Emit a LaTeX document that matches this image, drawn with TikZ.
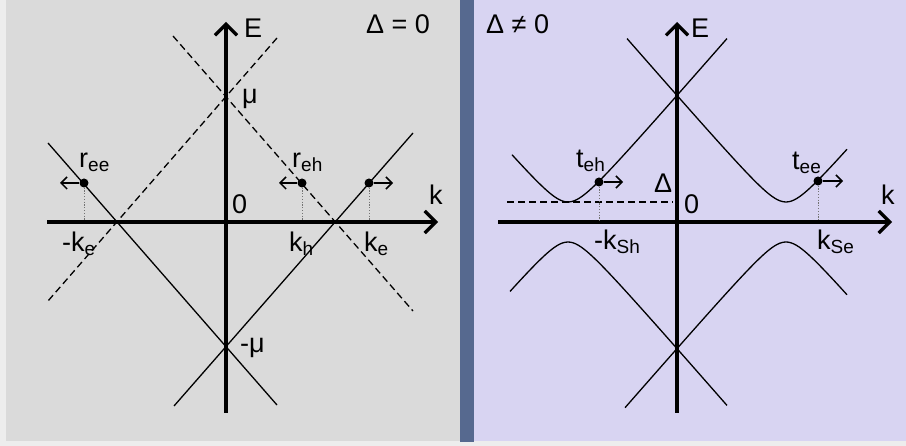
\documentclass[tikz,border=0pt]{standalone}
\usepackage{fontspec}
\setmainfont{Liberation Sans}
\usepackage{xcolor}
\usetikzlibrary{arrows.meta}

\definecolor{pagebg}{HTML}{EDEDED}
\definecolor{leftbg}{HTML}{DADADA}
\definecolor{rightbg}{HTML}{D8D4F2}
\definecolor{splitbar}{HTML}{56698F}

\newcommand{\lowsub}[1]{\raisebox{-0.25ex}{\fontsize{19}{21}\selectfont #1}}

\begin{document}
\begin{tikzpicture}[x=1pt, y=-1pt,
    kaxis/.style={line width=3.2pt, -{Straight Barb[length=11pt, width=22pt]}},
    band/.style={line width=1.3pt},
    guide/.style={line width=1.3pt, dash pattern=on 7pt off 4pt},
    drop/.style={line width=1pt, black!55, dash pattern=on 1.2pt off 1.6pt},
    move/.style={line width=1.5pt, -{Straight Barb[length=6pt, width=12pt]}},
    spot/.style={circle, fill=black, inner sep=0pt, minimum size=9pt},
    lbl/.style={font=\fontsize{27}{30}\selectfont, inner sep=0pt, anchor=base west}
]

% Backgrounds
\fill[pagebg] (0,0) rectangle (906,446);
\useasboundingbox (0,0) rectangle (906,446);
\fill[leftbg] (6,0) rectangle (460,441);
\fill[rightbg] (474,0) rectangle (906,441);
\fill[splitbar] (460,0) rectangle (474,442);

% Left panel: Delta = 0
\coordinate (lkl) at (47,222);
\coordinate (lkr) at (438,222);
\coordinate (lel) at (226,413);
\coordinate (leh) at (226,22);
\draw[kaxis] (lkl) -- (lkr);
\draw[kaxis] (lel) -- (leh);

\coordinate (la1) at (48,143);
\coordinate (la2) at (277,405);
\coordinate (lb1) at (174,406);
\coordinate (lb2) at (413,133);
\draw[band] (la1) -- (la2);
\draw[band] (lb1) -- (lb2);

\coordinate (lc1) at (173,36);
\coordinate (lc2) at (413,311);
\coordinate (ld1) at (277,38);
\coordinate (ld2) at (48,301);
\draw[guide] (lc1) -- (lc2);
\draw[guide] (ld1) -- (ld2);

% scattering states, left
\node[spot] (ree) at (84,183) {};
\node[spot] (reh) at (302,183) {};
\node[spot] (rout) at (369,183) {};
\coordinate (reeto) at (60,183);
\coordinate (rehto) at (279,183);
\coordinate (routto) at (393,183);
\draw[move] (ree) -- (reeto);
\draw[move] (reh) -- (rehto);
\draw[move] (rout) -- (routto);
\coordinate (reeax) at (84,221);
\coordinate (rehax) at (302,221);
\coordinate (routax) at (369,221);
\draw[drop] (ree) -- (reeax);
\draw[drop] (reh) -- (rehax);
\draw[drop] (rout) -- (routax);

\node[lbl] (lE) at (244,38) {E};
\node[lbl] (lk) at (429,205) {k};
\node[lbl] (lzero) at (232,214) {0};
\node[lbl] (lgap) at (366,34) {Δ = 0};
\node[lbl] (lmu) at (242,104) {μ};
\node[lbl] (lmmu) at (240,353) {-μ};
\node[lbl] (lree) at (79,168) {r\lowsub{ee}};
\node[lbl] (lreh) at (292,168) {r\lowsub{eh}};
\node[lbl] (lmke) at (62,252) {-k\lowsub{e}};
\node[lbl] (lkh) at (289,252) {k\lowsub{h}};
\node[lbl] (lke) at (364,252) {k\lowsub{e}};

% Right panel: Delta != 0
\coordinate (rkl) at (498,222);
\coordinate (rkr) at (892,222);
\coordinate (rel) at (677,413);
\coordinate (reh) at (677,22);
\draw[kaxis] (rkl) -- (rkr);
\draw[kaxis] (rel) -- (reh);

\draw[band] plot[domain=512:727, samples=80] (\x, {222 - 10*sqrt((0.11468*(\x-568))^2 + 4)});
\draw[band] plot[domain=627:847, samples=80] (\x, {222 - 10*sqrt((0.11468*(\x-786))^2 + 4)});
\draw[band] plot[domain=510:727, samples=80] (\x, {222 + 10*sqrt((0.11468*(\x-568))^2 + 4)});
\draw[band] plot[domain=625:847, samples=80] (\x, {222 + 10*sqrt((0.11468*(\x-786))^2 + 4)});

\coordinate (gapl) at (507,202);
\coordinate (gapr) at (673,202);
\draw[guide] (gapl) -- (gapr);

% scattering states, right
\node[spot] (teh) at (599,182) {};
\node[spot] (tee) at (818,181) {};
\coordinate (tehto) at (623,182);
\coordinate (teeto) at (843,181);
\draw[move] (teh) -- (tehto);
\draw[move] (tee) -- (teeto);
\coordinate (tehax) at (599,221);
\coordinate (teeax) at (818,221);
\draw[drop] (teh) -- (tehax);
\draw[drop] (tee) -- (teeax);

\node[lbl] (rE) at (691,38) {E};
\node[lbl] (rk) at (881,205) {k};
\node[lbl] (rzero) at (684,214) {0};
\node[lbl] (rgap) at (486,34) {Δ ≠ 0};
\node[lbl] (rdelta) at (654,193) {Δ};
\node[lbl] (lteh) at (576,168) {t\lowsub{eh}};
\node[lbl] (ltee) at (792,170) {t\lowsub{ee}};
\node[lbl] (lmksh) at (594,250) {-k\lowsub{Sh}};
\node[lbl] (lkse) at (817,250) {k\lowsub{Se}};

\end{tikzpicture}
\end{document}
